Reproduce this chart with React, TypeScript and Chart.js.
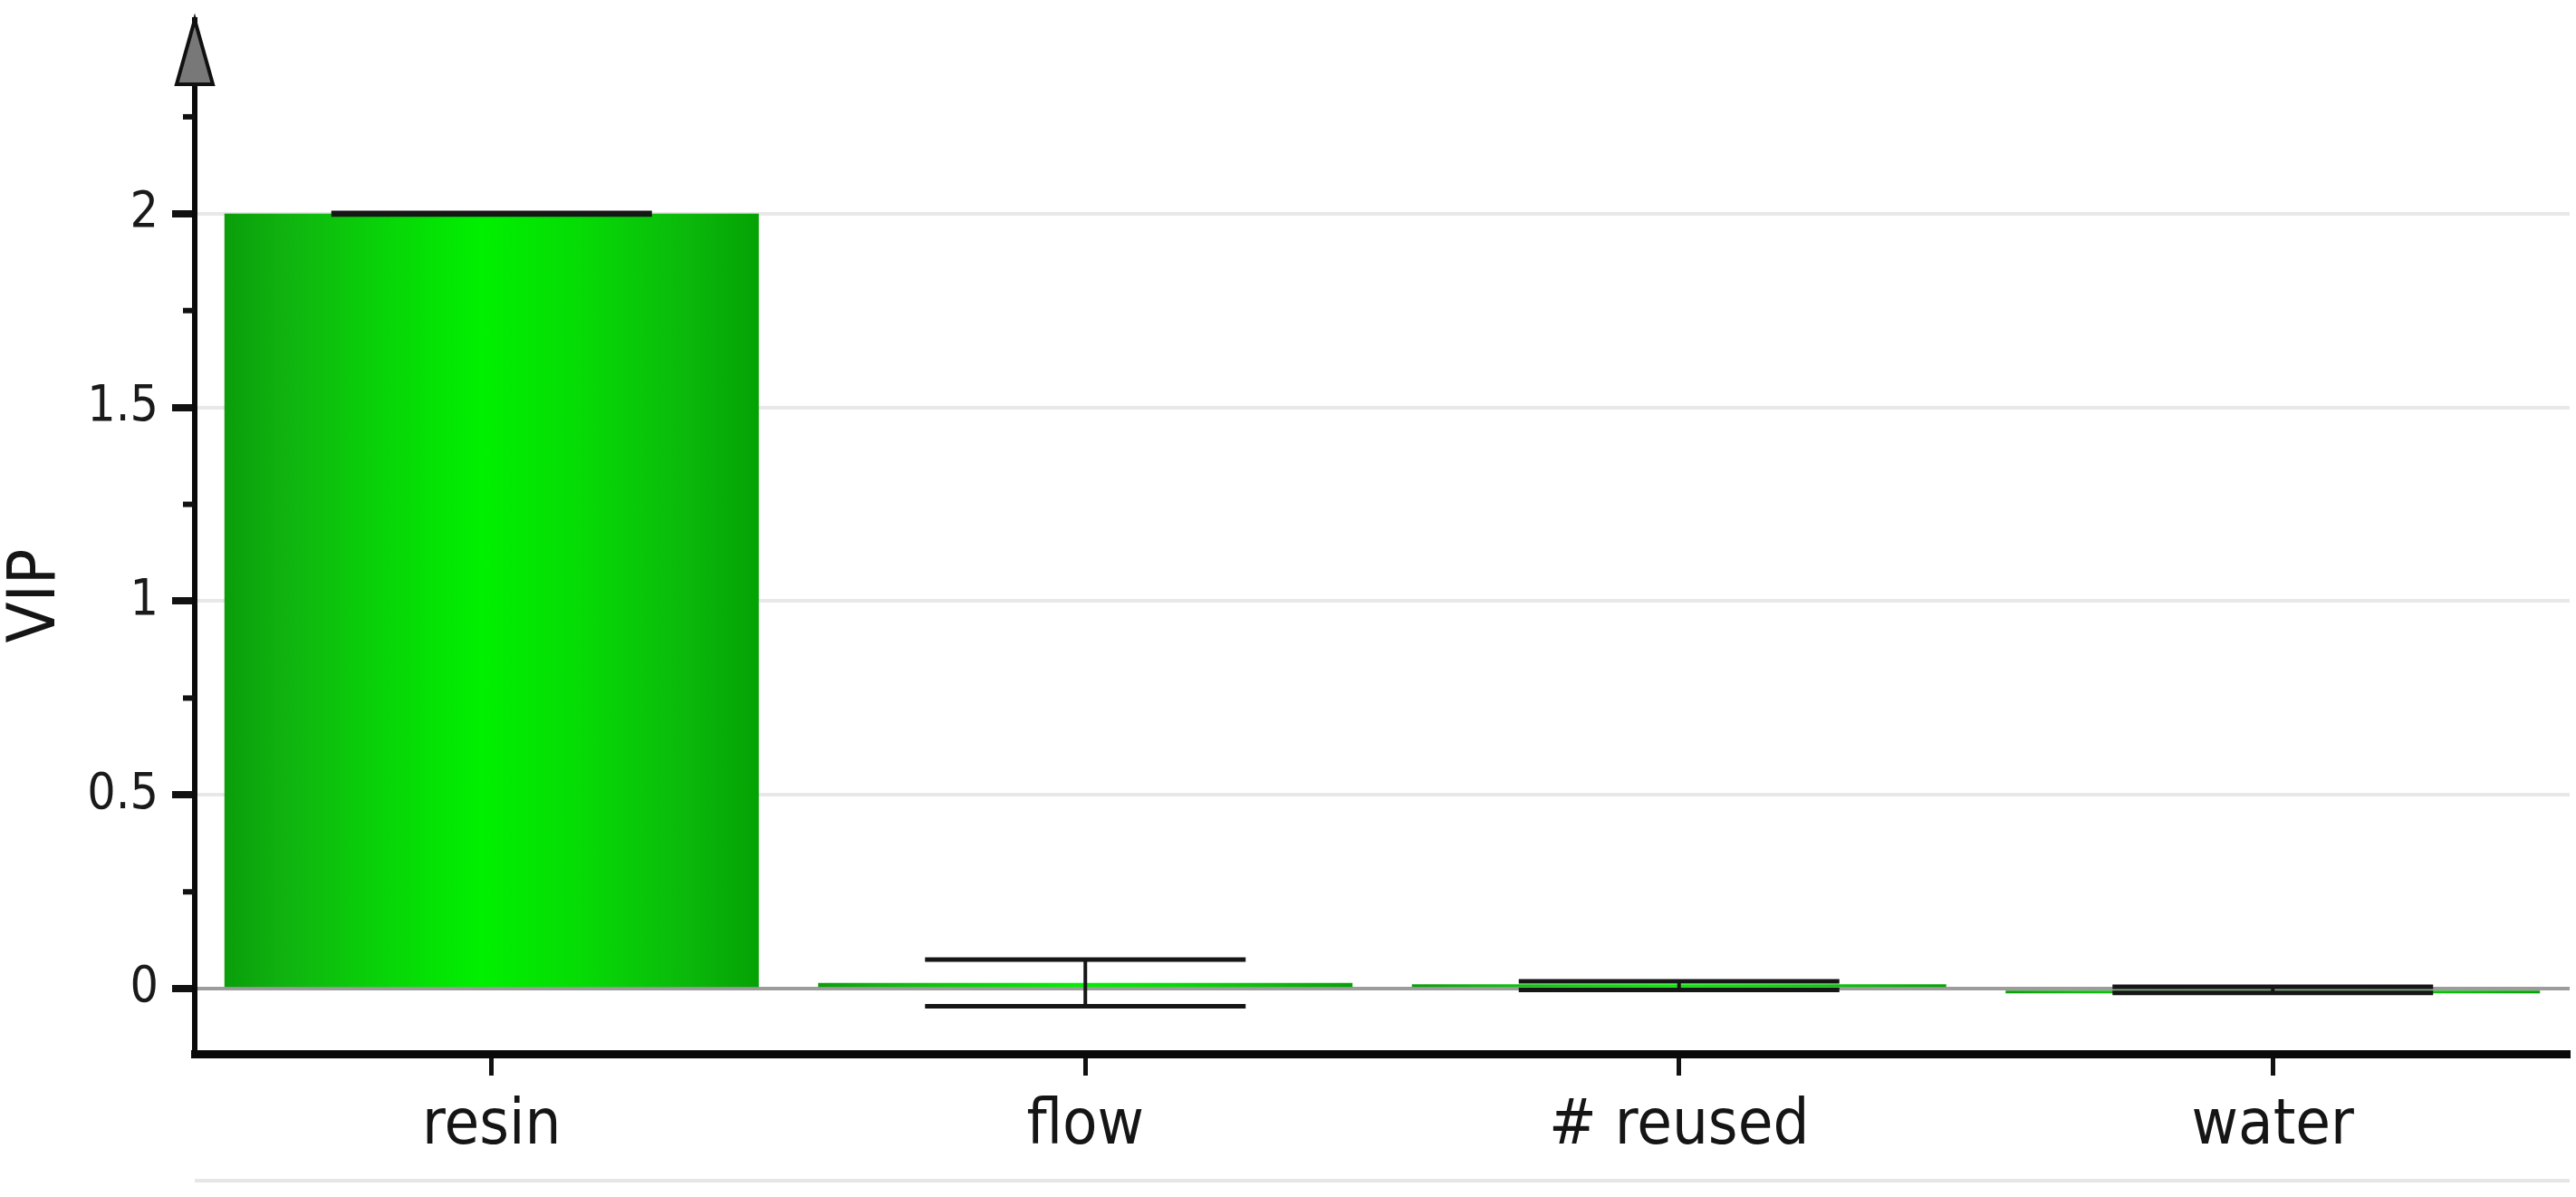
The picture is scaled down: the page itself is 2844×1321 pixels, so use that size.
import React, { useEffect, useRef } from "react";
import { Chart, registerables } from "chart.js";

Chart.register(...registerables);

const categories = ["resin", "flow", "# reused", "water"];
const vipValues = [2.0, 0.015, 0.008, -0.003];
const vipErrors = [0.002, 0.06, 0.011, 0.008];
const majorTicks = [0, 0.5, 1, 1.5, 2];
const minorTicks = [0.25, 0.75, 1.25, 1.75, 2.25];
const yAxisTitle = "VIP";

const W = 2844;
const H = 1321;
const FONT = "'DejaVu Sans Condensed', 'Liberation Sans Narrow', 'DejaVu Sans', sans-serif";

const near = (a: number, b: number) => Math.abs(a - b) < 1e-6;
const isMajor = (v: number) => majorTicks.some((m) => near(m, v));

const decorPlugin = {
  id: "decor",
  afterDatasetsDraw(chart: any) {
    const { ctx, scales } = chart;
    const xs = scales.x;
    const ys = scales.y;
    const catW = xs.width / categories.length;
    const capHalf = catW * 0.27;
    ctx.save();
    ctx.strokeStyle = "#161616";
    vipValues.forEach((v, i) => {
      const e = vipErrors[i];
      const cx = xs.getPixelForValue(i);
      const yT = ys.getPixelForValue(v + e);
      const yB = ys.getPixelForValue(v - e);
      ctx.lineWidth = 4;
      ctx.beginPath();
      ctx.moveTo(cx, yT);
      ctx.lineTo(cx, yB);
      ctx.stroke();
      ctx.lineWidth = 5;
      ctx.beginPath();
      ctx.moveTo(cx - capHalf, yT);
      ctx.lineTo(cx + capHalf, yT);
      ctx.moveTo(cx - capHalf, yB);
      ctx.lineTo(cx + capHalf, yB);
      ctx.stroke();
    });
    ctx.restore();
  },
  afterDraw(chart: any) {
    const { ctx, scales, chartArea } = chart;
    const ys = scales.y;
    const ax = chartArea.left;
    ctx.save();
    // minor ticks
    ctx.strokeStyle = "#111";
    ctx.lineWidth = 6;
    minorTicks.forEach((m) => {
      const y = ys.getPixelForValue(m);
      ctx.beginPath();
      ctx.moveTo(ax - 13, y);
      ctx.lineTo(ax, y);
      ctx.stroke();
    });
    // arrow head
    const tip = chartArea.top;
    ctx.beginPath();
    ctx.moveTo(ax, tip);
    ctx.lineTo(ax + 20, tip + 71);
    ctx.lineTo(ax - 20, tip + 71);
    ctx.closePath();
    ctx.fillStyle = "#787878";
    ctx.fill();
    ctx.lineWidth = 4;
    ctx.lineJoin = "miter";
    ctx.strokeStyle = "#111";
    ctx.stroke();
    // axis title
    ctx.translate(41, ys.getPixelForValue(1) - 6);
    ctx.rotate(-Math.PI / 2);
    ctx.font = "73px " + FONT;
    ctx.fillStyle = "#151515";
    ctx.textAlign = "center";
    ctx.textBaseline = "middle";
    ctx.fillText(yAxisTitle, 0, 0);
    ctx.restore();
    // bottom light line
    ctx.save();
    ctx.strokeStyle = "#e6e6e6";
    ctx.lineWidth = 4;
    ctx.beginPath();
    ctx.moveTo(chartArea.left, 1303);
    ctx.lineTo(chartArea.right, 1303);
    ctx.stroke();
    ctx.restore();
  },
};

export default function App() {
  const ref = useRef<HTMLCanvasElement | null>(null);

  useEffect(() => {
    if (!ref.current) return;
    const barFill = (c: any) => {
      const chart = c.chart;
      if (!chart.chartArea || c.dataIndex === undefined) return "#00cc00";
      const xs = chart.scales.x;
      const cx = xs.getPixelForValue(c.dataIndex);
      const half = (xs.width / categories.length) * 0.9 * 0.5;
      const g = chart.ctx.createLinearGradient(cx - half, 0, cx + half, 0);
      g.addColorStop(0, "#0a9e0a");
      g.addColorStop(0.12, "#10b410");
      g.addColorStop(0.3, "#08d408");
      g.addColorStop(0.48, "#00f000");
      g.addColorStop(0.66, "#05dc05");
      g.addColorStop(0.86, "#0bb90b");
      g.addColorStop(1, "#04a204");
      return g;
    };

    const chart = new Chart(ref.current, {
      type: "bar",
      data: {
        labels: categories,
        datasets: [
          {
            data: vipValues,
            backgroundColor: barFill,
            borderWidth: 0,
            barPercentage: 0.9,
            categoryPercentage: 1,
            minBarLength: 5,
          },
        ],
      },
      options: {
        animation: false,
        responsive: false,
        events: [],
        layout: { padding: { top: 22, right: 7, left: 0, bottom: 0 } },
        plugins: { legend: { display: false }, tooltip: { enabled: false } },
        scales: {
          x: {
            afterFit: (s: any) => {
              s.height = 158;
              s.paddingLeft = 0;
              s.paddingRight = 0;
            },
            grid: {
              display: true,
              drawOnChartArea: false,
              drawTicks: true,
              offset: false,
              tickLength: 24,
              tickWidth: 5,
              tickColor: "#111",
            },
            border: { display: true, color: "#0a0a0a", width: 9 },
            ticks: {
              padding: 15,
              color: "#151515",
              font: { family: FONT, size: 70 },
            },
          },
          y: {
            min: -0.168,
            max: 2.5,
            afterFit: (s: any) => {
              s.width = 215;
              s.paddingTop = 0;
              s.paddingBottom = 0;
            },
            grid: {
              drawTicks: true,
              tickLength: 25,
              lineWidth: 4,
              tickWidth: 8,
              color: (c: any) => {
                const v = c.tick ? c.tick.value : NaN;
                if (near(v, 0)) return "#9c9c9c";
                if (isMajor(v)) return "#e8e8e8";
                return "rgba(0,0,0,0)";
              },
              tickColor: (c: any) => {
                const v = c.tick ? c.tick.value : NaN;
                return isMajor(v) ? "#111" : "rgba(0,0,0,0)";
              },
            },
            border: { display: true, color: "#0a0a0a", width: 6 },
            ticks: {
              stepSize: 0.25,
              autoSkip: false,
              padding: 15,
              color: "#1a1a1a",
              font: { family: FONT, size: 55 },
              callback: (v: any) => (isMajor(Number(v)) ? String(Number(v)) : ""),
            },
          },
        },
      },
      plugins: [decorPlugin],
    } as any);
    return () => chart.destroy();
  }, []);

  return (
    <div style={{ position: "fixed", left: 0, top: 0, width: W, height: H, background: "#fff" }}>
      <canvas ref={ref} width={W} height={H} style={{ display: "block", width: W, height: H }} />
    </div>
  );
}
